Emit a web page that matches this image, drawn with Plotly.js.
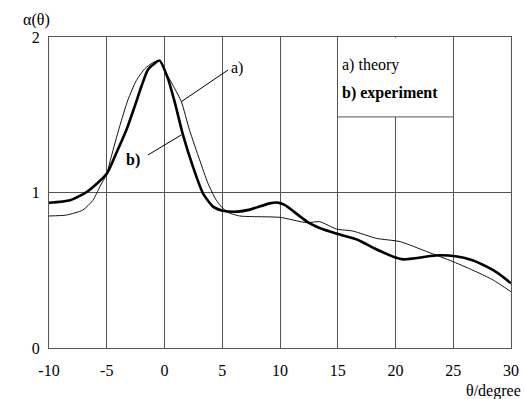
<!DOCTYPE html>
<html>
<head>
<meta charset="utf-8">
<script src="https://cdn.plot.ly/plotly-3.0.1.min.js"></script>
<style>html,body{margin:0;padding:0;background:#fff;}#chart{width:525px;height:399px;}</style>
</head>
<body>
<div id="chart"></div>
<script>
// a) theory
const theoryX = [-10, -8.5, -7.07, -6.2, -5.6, -5.0, -4.61, -3.89, -3.17, -2.44, -1.72, -1.0, -0.42, 0.16, 0.8, 1.46, 2.17, 3.04, 3.76, 4.49, 5.36, 6.5, 7.6, 10, 12.3, 13.44, 14.9, 16.3, 18.35, 20.4, 22.7, 25, 27, 28.46, 30];
const theoryY = [0.849, 0.855, 0.887, 0.95, 1.037, 1.12, 1.23, 1.423, 1.595, 1.72, 1.795, 1.835, 1.848, 1.766, 1.68, 1.584, 1.40, 1.21, 1.06, 0.95, 0.877, 0.849, 0.845, 0.84, 0.806, 0.812, 0.765, 0.752, 0.705, 0.684, 0.62, 0.555, 0.49, 0.437, 0.362];
// b) experiment
const expX = [-10, -8.17, -6.7, -5.0, -4.18, -3.31, -2.59, -2.01, -1.44, -0.86, -0.42, 0.29, 0.875, 1.6, 2.46, 3.33, 4.2, 5.06, 6.3, 7.4, 9.1, 9.8, 10.4, 12.4, 13.85, 15.3, 16.76, 18.2, 19.94, 20.67, 23.7, 25.2, 26.6, 27.9, 28.9, 30];
const expY = [0.934, 0.95, 1.005, 1.12, 1.252, 1.40, 1.552, 1.68, 1.79, 1.83, 1.848, 1.734, 1.584, 1.37, 1.166, 0.995, 0.909, 0.883, 0.877, 0.89, 0.93, 0.935, 0.92, 0.81, 0.76, 0.727, 0.695, 0.64, 0.583, 0.57, 0.596, 0.59, 0.566, 0.523, 0.48, 0.416];
const xTicks = [-10, -5, 0, 5, 10, 15, 20, 25, 30];
const yTicks = [0, 1, 2];
const legendLabels = ['a) theory', 'b) experiment'];

const FONT = '"Liberation Serif", "Times New Roman", Times, serif';
const GRID = '#555';
const f = (size) => ({family: FONT, size: size, color: '#000'});

const traces = [
  {x: theoryX, y: theoryY, mode: 'lines', type: 'scatter', name: legendLabels[0],
   line: {color: '#111', width: 1, shape: 'spline', smoothing: 0.6}},
  {x: expX, y: expY, mode: 'lines', type: 'scatter', name: legendLabels[1],
   line: {color: '#000', width: 2.6, shape: 'spline', smoothing: 0.6}}
];

const layout = {
  width: 525, height: 399,
  margin: {l: 49, r: 14, t: 37, b: 51},
  paper_bgcolor: '#fff', plot_bgcolor: '#fff',
  showlegend: false,
  font: f(16),
  xaxis: {range: [-10, 30], tickvals: xTicks, ticktext: xTicks.map(String),
    showgrid: true, gridcolor: GRID, gridwidth: 1, zeroline: false,
    showline: true, linecolor: GRID, linewidth: 1, mirror: true,
    ticks: '', ticklabelstandoff: 8, tickfont: f(16)},
  yaxis: {range: [0, 2], tickvals: yTicks, ticktext: yTicks.map(String),
    showgrid: true, gridcolor: GRID, gridwidth: 1, zeroline: false,
    showline: true, linecolor: GRID, linewidth: 1, mirror: true,
    ticks: '', ticklabelstandoff: 5, tickfont: f(16)},
  shapes: [
    {type: 'rect', xref: 'x', yref: 'y', x0: 15.1, x1: 24.9, y0: 1.486, y1: 1.995,
     fillcolor: '#fff', line: {width: 0}, layer: 'between'},
    {type: 'line', xref: 'x', yref: 'y', x0: 15, x1: 25, y0: 1.486, y1: 1.486,
     line: {color: GRID, width: 1}, layer: 'between'},
    {type: 'line', xref: 'x', yref: 'y', x0: 5.5, y0: 1.788, x1: 1.456, y1: 1.584,
     line: {color: '#000', width: 1}},
    {type: 'line', xref: 'x', yref: 'y', x0: -1.44, y0: 1.241, x1: 1.456, y1: 1.37,
     line: {color: '#000', width: 1}}
  ],
  annotations: [
    {text: 'α(θ)', xref: 'paper', yref: 'paper', x: -0.027, y: 1.055, xanchor: 'center', yanchor: 'middle',
     showarrow: false, font: f(16)},
    {text: 'θ/degree', xref: 'paper', yref: 'paper', x: 0.963, y: -0.138, xanchor: 'center', yanchor: 'middle',
     showarrow: false, font: f(16)},
    {text: 'a)', xref: 'x', yref: 'y', x: 5.6, y: 1.8, xanchor: 'left', yanchor: 'middle', showarrow: false, font: f(16)},
    {text: '<b>b)</b>', xref: 'x', yref: 'y', x: -2.74, y: 1.209, xanchor: 'center', yanchor: 'middle', showarrow: false, font: f(16)},
    {text: legendLabels[0], xref: 'x', yref: 'y', x: 15.2, y: 1.82, xanchor: 'left', yanchor: 'middle', showarrow: false, font: f(16)},
    {text: '<b>' + legendLabels[1] + '</b>', xref: 'x', yref: 'y', x: 15.2, y: 1.64, xanchor: 'left', yanchor: 'middle', showarrow: false, font: f(16)}
  ]
};

Plotly.newPlot('chart', traces, layout, {displayModeBar: false, staticPlot: true});
</script>
</body>
</html>
